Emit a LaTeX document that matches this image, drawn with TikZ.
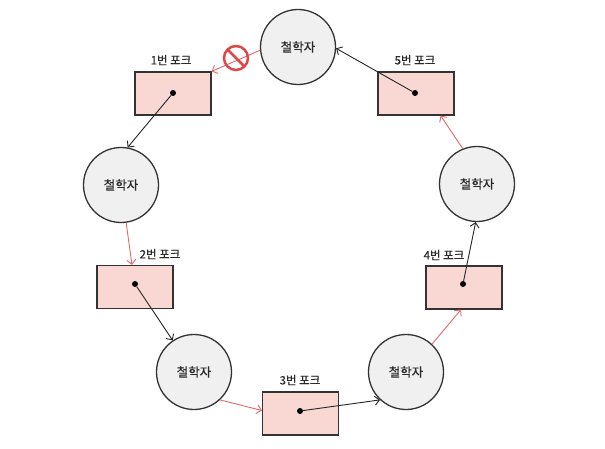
\documentclass[tikz,border=0pt]{standalone}
\usepackage{fontspec}
\newfontfamily\kr[FakeBold=0.4]{Noto Sans CJK KR}
\usetikzlibrary{arrows.meta}
\definecolor{forkfill}{HTML}{F9D8D4}
\definecolor{philfill}{HTML}{F0F0F0}
\definecolor{edge}{HTML}{333333}
\definecolor{txt}{HTML}{2A2A2A}
\definecolor{redline}{HTML}{E26A6A}
\definecolor{nored}{HTML}{E04848}
\begin{document}
\begin{tikzpicture}[x=1pt,y=-1pt,
 phil/.style={circle, draw=edge, line width=1.3pt, fill=philfill, minimum size=75pt, inner sep=0pt, text=txt, font=\kr\fontsize{12.5}{14}\selectfont},
 fork/.style={rectangle, draw=edge, line width=1.2pt, fill=forkfill, minimum width=76pt, minimum height=43pt, inner sep=0pt},
 dot/.style={circle, fill=black, minimum size=6pt, inner sep=0pt},
 lbl/.style={font=\kr\fontsize{11.5}{13}\selectfont, text=txt, inner sep=0pt},
 hold/.style={draw=black!85, line width=0.9pt, -{Straight Barb[length=4.5pt,width=9pt]}},
 want/.style={draw=redline, line width=0.9pt, -{Straight Barb[length=4.5pt,width=9pt]}},
 nosign/.style={circle, draw=nored, line width=2.5pt, minimum size=24pt, inner sep=0pt}
]
\fill[white] (0,0) rectangle (605,449);
\useasboundingbox (0,0) rectangle (605,449);
% philosophers
\node[phil] (P1) at (298,47) {철학자};
\node[phil] (P2) at (121,185) {철학자};
\node[phil] (P3) at (194,372) {철학자};
\node[phil] (P4) at (406,372) {철학자};
\node[phil] (P5) at (477,184) {철학자};
% forks
\node[fork] (F1) at (173,93.5) {};
\node[fork] (F2) at (135,287) {};
\node[fork] (F3) at (300.5,413.5) {};
\node[fork] (F4) at (464,287.5) {};
\node[fork] (F5) at (416,93.5) {};
% labels
\node[lbl] (L1) at (171,60) {1번 포크};
\node[lbl] (L2) at (160,254) {2번 포크};
\node[lbl] (L3) at (300,380) {3번 포크};
\node[lbl] (L4) at (444,255) {4번 포크};
\node[lbl] (L5) at (415,60) {5번 포크};
% dots
\node[dot] (D1) at (173,93) {};
\node[dot] (D2) at (135,284) {};
\node[dot] (D3) at (300,411) {};
\node[dot] (D4) at (463,284) {};
\node[dot] (D5) at (415,93) {};
% red (wanted) arrows
\draw[want] (P1.185) -- (F1.north east);
\draw[want] (P2) -- (F2);
\draw[want] (P3.-47) -- ([yshift=3pt]F3.west);
\draw[want] (P4.47) -- ([xshift=-3pt]F4.south);
\draw[want] (P5.112) -- ([xshift=-14pt]F5.south east);
% black (held) arrows
\draw[hold] (D1) -- (P2.80);
\draw[hold] (D2) -- (P3.124);
\draw[hold] (D3) -- (P4.227);
\draw[hold] (D4) -- (P5.-92);
\draw[hold] (D5) -- (P1.-2);
% no sign
\node[nosign] (NO) at (236,58) {};
\draw[nored, line width=2.5pt] ([shift={(-8,-8)}]NO.center) -- ([shift={(8,8)}]NO.center);
\end{tikzpicture}
\end{document}
